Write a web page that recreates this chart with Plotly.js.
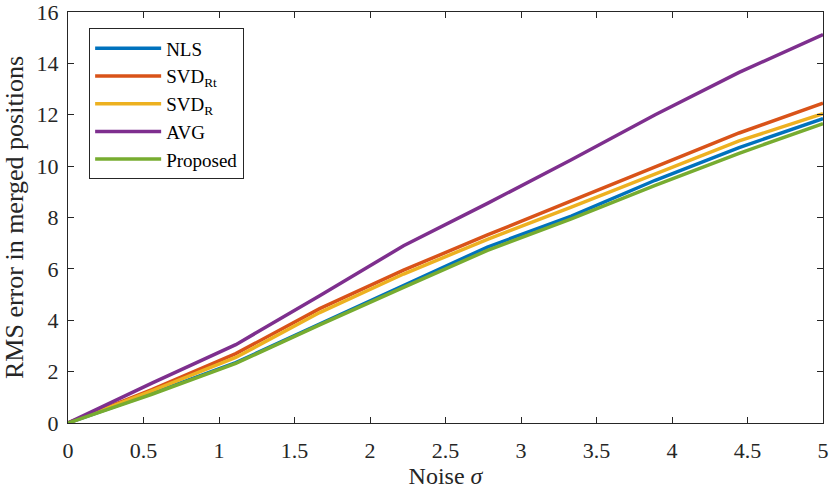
<!DOCTYPE html>
<html><head><meta charset="utf-8">
<script src="https://cdn.plot.ly/plotly-3.0.1.min.js"></script>
<style>html,body{margin:0;padding:0;background:#fff}#c{width:829px;height:490px}</style>
</head><body><div id="c"></div>
<script>
const noise = [0, 0.5556, 1.1111, 1.6667, 2.2222, 2.7778, 3.3333, 3.8889, 4.4444, 5];
const nls      = [0, 1.15, 2.35, 3.85, 5.35, 6.85, 8.05, 9.45, 10.72, 11.85];
const svdRt    = [0, 1.30, 2.70, 4.45, 5.95, 7.32, 8.65, 9.98, 11.29, 12.45];
const svdR     = [0, 1.25, 2.55, 4.30, 5.80, 7.15, 8.40, 9.68, 10.98, 12.04];
const avg      = [0, 1.55, 3.05, 4.95, 6.90, 8.55, 10.25, 12.00, 13.65, 15.12];
const proposed = [0, 1.12, 2.32, 3.82, 5.28, 6.72, 7.95, 9.25, 10.50, 11.65];
const names = ['NLS', 'SVD<sub>Rt</sub>', 'SVD<sub>R</sub>', 'AVG', 'Proposed'];
const series = [nls, svdRt, svdR, avg, proposed];
const colors = ['#0072BD', '#D95319', '#EDB120', '#7E2F8E', '#77AC30'];
const xTicks = [0, 0.5, 1, 1.5, 2, 2.5, 3, 3.5, 4, 4.5, 5];
const yTicks = [0, 2, 4, 6, 8, 10, 12, 14, 16];

const traces = series.map((s, i) => ({
  x: noise, y: s, name: names[i], type: 'scatter', mode: 'lines',
  line: {color: colors[i], width: 3.5}
}));
const FONT = 'Liberation Serif, Times New Roman, serif';
const axisBase = {
  showgrid: false, zeroline: false, showline: true, mirror: 'ticks',
  linecolor: '#262626', linewidth: 1, ticks: 'inside', ticklen: 6,
  tickcolor: '#262626', ticklabeloverflow: 'allow',
  tickfont: {family: FONT, size: 22, color: '#262626'}
};
const layout = {
  width: 829, height: 490,
  margin: {l: 68, r: 6, t: 12, b: 67},
  paper_bgcolor: '#fff', plot_bgcolor: '#fff',
  font: {family: FONT, color: '#262626'},
  xaxis: Object.assign({}, axisBase, {range: [0, 5], tickvals: xTicks, ticktext: xTicks.map(String),
    ticklabelstandoff: 8,
    title: {text: 'Noise <i>σ</i>', font: {family: FONT, size: 24, color: '#262626'}, standoff: 2}}),
  yaxis: Object.assign({}, axisBase, {range: [0, 16], tickvals: yTicks, ticktext: yTicks.map(String),
    ticklabelstandoff: 4,
    title: {text: 'RMS error in merged positions', font: {family: FONT, size: 26, color: '#262626'}, standoff: 6}}),
  showlegend: true,
  legend: {x: 0.028, y: 0.96, xanchor: 'left', yanchor: 'top', bgcolor: '#fff',
    bordercolor: '#262626', borderwidth: 1, font: {family: FONT, size: 19, color: '#000'},
    tracegroupgap: 0, itemwidth: 66}
};
Plotly.newPlot('c', traces, layout, {displayModeBar: false, staticPlot: true});
</script></body></html>
